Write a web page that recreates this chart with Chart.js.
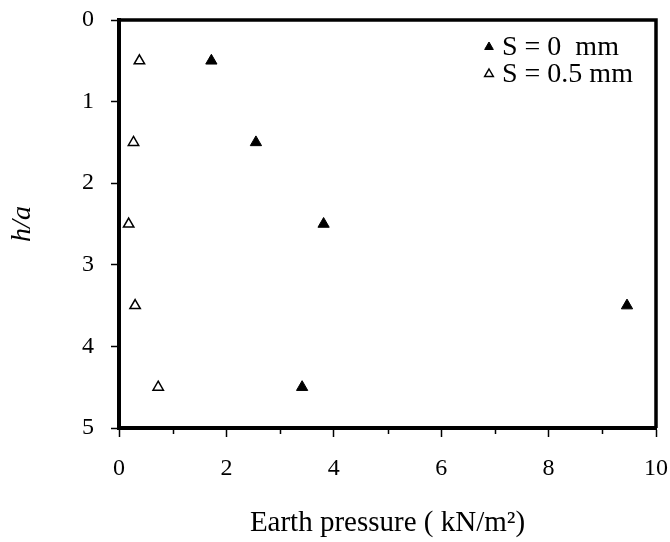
<!DOCTYPE html>
<html lang="en">
<head>
<meta charset="UTF-8">
<script src="https://cdn.jsdelivr.net/npm/chart.js"></script>
<style>
  html, body { margin: 0; padding: 0; background: #ffffff; }
  #wrap { width: 670px; height: 542px; }
</style>
</head>
<body>
<div id="wrap"><canvas id="chart" width="670" height="542"></canvas></div>
<script>
// values
const depthRatio = [0.5, 1.5, 2.5, 3.5, 4.5];          // h/a
const pressureS0 = [1.72, 2.55, 3.81, 9.46, 3.41];     // S = 0 mm
const pressureS05 = [0.38, 0.27, 0.18, 0.30, 0.73];    // S = 0.5 mm
const seriesLabels = ['S = 0  mm', 'S = 0.5 mm'];
const xTicks = [0, 2, 4, 6, 8, 10];
const xMinorTicks = [1, 3, 5, 7, 9];
const yTicks = [0, 1, 2, 3, 4, 5];

const FONT = "'Liberation Serif', 'Times New Roman', serif";
const toPoints = (xs) => xs.map((x, i) => ({ x: x, y: depthRatio[i] }));

// frame on the top and right edges of the plot, plus short minor x ticks
const framePlugin = {
  id: 'frame',
  afterDraw(chart) {
    const { ctx, chartArea: a } = chart;
    const xs = chart.scales.x;
    ctx.save();
    ctx.strokeStyle = '#000';
    ctx.lineWidth = 3.5;
    ctx.beginPath();
    ctx.moveTo(a.left, a.top);
    ctx.lineTo(a.right, a.top);
    ctx.lineTo(a.right, a.bottom);
    ctx.stroke();
    ctx.lineWidth = 1.5;
    ctx.beginPath();
    xMinorTicks.forEach((v) => {
      const px = Math.round(xs.getPixelForValue(v)) + 0.5;
      ctx.moveTo(px, a.bottom);
      ctx.lineTo(px, a.bottom + 6);
    });
    ctx.stroke();
    ctx.restore();
  }
};

// legend inside the plot, top right
const innerLegend = {
  id: 'innerLegend',
  afterDraw(chart) {
    const { ctx } = chart;
    const x0 = 489, y0 = 47, rowH = 27, r = 5;
    ctx.save();
    chart.data.datasets.forEach((ds, i) => {
      const y = y0 + i * rowH;
      ctx.fillStyle = ds.pointBackgroundColor;
      ctx.strokeStyle = '#000';
      ctx.lineWidth = ds.pointBorderWidth;
      ctx.beginPath();
      ctx.moveTo(x0, y - r);
      ctx.lineTo(x0 + r * 0.866, y + r * 0.5);
      ctx.lineTo(x0 - r * 0.866, y + r * 0.5);
      ctx.closePath();
      ctx.fill();
      ctx.stroke();
      ctx.fillStyle = '#000';
      ctx.font = '28px ' + FONT;
      ctx.textBaseline = 'middle';
      ctx.textAlign = 'left';
      ctx.fillText(ds.label, x0 + 13, y + 1);
    });
    ctx.restore();
  }
};

new Chart(document.getElementById('chart'), {
  type: 'scatter',
  data: {
    datasets: [
      {
        label: seriesLabels[0],
        data: toPoints(pressureS0),
        pointStyle: 'triangle',
        pointRadius: 6.5,
        pointBackgroundColor: '#000',
        pointBorderColor: '#000',
        pointBorderWidth: 1
      },
      {
        label: seriesLabels[1],
        data: toPoints(pressureS05),
        pointStyle: 'triangle',
        pointRadius: 6,
        pointBackgroundColor: '#fff',
        pointBorderColor: '#000',
        pointBorderWidth: 1.5
      }
    ]
  },
  options: {
    responsive: false,
    animation: false,
    layout: { padding: { left: 0, top: 20, right: 14, bottom: 0 } },
    plugins: {
      legend: { display: false },
      tooltip: { enabled: false }
    },
    scales: {
      x: {
        type: 'linear',
        min: 0,
        max: 10,
        afterFit(scale) {
          scale.height = 114;
          scale.paddingLeft = 0;
          scale.paddingRight = 0;
        },
        afterBuildTicks(scale) {
          scale.ticks = xTicks.map((v) => ({ value: v }));
        },
        ticks: {
          autoSkip: false,
          maxRotation: 0,
          padding: 17,
          color: '#000',
          font: { family: FONT, size: 24 }
        },
        grid: {
          drawOnChartArea: false,
          drawTicks: true,
          tickLength: 9,
          tickWidth: 1.5,
          tickColor: '#000'
        },
        border: { display: true, color: '#000', width: 4 },
        title: {
          display: true,
          text: 'Earth pressure ( kN/m²)',
          color: '#000',
          font: { family: FONT, size: 29 },
          padding: { top: 0, bottom: 1 }
        }
      },
      y: {
        type: 'linear',
        reverse: true,
        min: 0,
        max: 5,
        afterFit(scale) {
          scale.width = 119;
          scale.paddingTop = 0;
          scale.paddingBottom = 0;
        },
        afterBuildTicks(scale) {
          scale.ticks = yTicks.map((v) => ({ value: v }));
        },
        ticks: {
          padding: 17,
          color: '#000',
          font: { family: FONT, size: 24 }
        },
        grid: {
          drawOnChartArea: false,
          drawTicks: true,
          tickLength: 8,
          tickWidth: 1.5,
          tickColor: '#000'
        },
        border: { display: true, color: '#000', width: 4 },
        title: {
          display: true,
          text: 'h/a',
          color: '#000',
          font: { family: FONT, size: 28, style: 'italic' },
          padding: { top: 6, bottom: 0 }
        }
      }
    }
  },
  plugins: [framePlugin, innerLegend]
});
</script>
</body>
</html>
